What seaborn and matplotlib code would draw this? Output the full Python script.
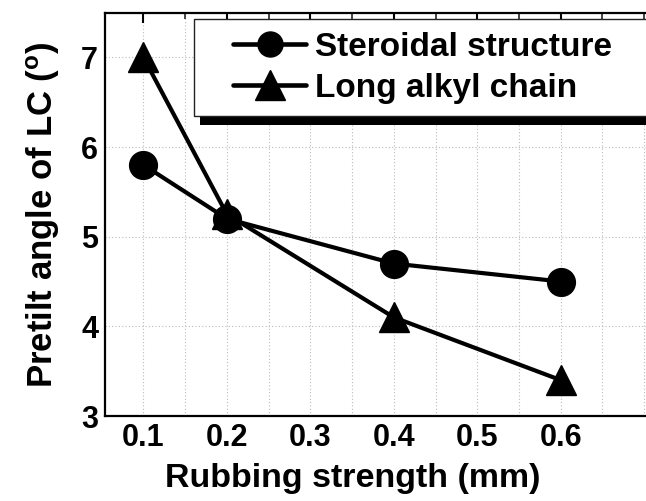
import matplotlib
matplotlib.use("Agg")
import matplotlib.pyplot as plt
from matplotlib.lines import Line2D
from matplotlib.patches import Rectangle
from matplotlib.transforms import IdentityTransform
from matplotlib.ticker import MultipleLocator
import seaborn as sns
import pandas as pd

# Rubbing strength (mm) and pretilt angle (deg) for the two alignment layers
rubbing = [0.1, 0.2, 0.4, 0.6]
steroidal = [5.8, 5.2, 4.7, 4.5]
long_alkyl = [7.0, 5.25, 4.1, 3.4]
series_names = ["Steroidal structure", "Long alkyl chain"]
x_ticks = [0.1, 0.2, 0.3, 0.4, 0.5, 0.6]
y_ticks = [3, 4, 5, 6, 7]

sns.set_theme(style="white")
plt.rcParams["font.family"] = ["Liberation Sans", "DejaVu Sans"]
plt.rcParams["font.weight"] = "bold"
plt.rcParams["mathtext.default"] = "regular"
plt.rcParams["text.color"] = "black"
plt.rcParams["axes.labelcolor"] = "black"

W, H, DPI = 646, 501, 100
fig = plt.figure(figsize=(W / DPI, H / DPI), dpi=DPI)
fig.patch.set_facecolor("white")

# x range chosen so that the right-hand frame runs off the canvas
xmin, xmax = 0.054, 0.72
left_px, bottom_px, top_px = 105, 416, 12.5
px_per_unit = 834.7
width_px = (xmax - xmin) * px_per_unit
ax = fig.add_axes([left_px / W, (H - bottom_px) / H,
                   width_px / W, (bottom_px - top_px) / H])
ax.set_facecolor("white")

df_long = pd.DataFrame({"x": rubbing, "y": long_alkyl})
df_ster = pd.DataFrame({"x": rubbing, "y": steroidal})

common = dict(color="black", linewidth=3.0, markeredgecolor="black",
              markeredgewidth=1, legend=False, ax=ax, clip_on=False)
sns.lineplot(data=df_long, x="x", y="y", marker="^", markersize=22, zorder=3, **common)
sns.lineplot(data=df_ster, x="x", y="y", marker="o", markersize=20, zorder=4, **common)

ax.set_xlim(xmin, xmax)
ax.set_ylim(3, 7.5)
ax.set_xticks(x_ticks)
ax.set_xticklabels([f"{v:.1f}" for v in x_ticks])
ax.xaxis.set_minor_locator(MultipleLocator(0.05))
ax.set_yticks(y_ticks)
ax.set_yticklabels([str(v) for v in y_ticks])

ax.grid(True, which="both", axis="x", color="#bbbbbb", linestyle=(0, (1, 2)), linewidth=0.8)
ax.grid(True, which="major", axis="y", color="#bbbbbb", linestyle=(0, (1, 2)), linewidth=0.8)
ax.set_axisbelow(True)

for s in ax.spines.values():
    s.set_color("black")
    s.set_linewidth(1.6)

ax.tick_params(axis="both", which="major", direction="in", length=7, width=1.5,
               top=True, right=True, labelsize=22, pad=5, colors="black")
ax.tick_params(axis="x", which="minor", direction="in", length=4, width=1.2, top=True)
for lab in ax.get_xticklabels() + ax.get_yticklabels():
    lab.set_fontweight("bold")

ax.set_xlabel("Rubbing strength (mm)", fontsize=24.5, fontweight="bold", labelpad=7, color="black")
ax.xaxis.label.set_x(0.446)
ax.set_ylabel("Pretilt angle of LC ($^{\\mathregular{o}}$)", fontsize=25, fontweight="bold",
              labelpad=14, color="black")

# legend box with a solid drop shadow, drawn in pixel coordinates
box_left, box_top, box_bottom, box_right = 194, 19, 116, 720
shadow = Rectangle((box_left + 6, H - box_bottom - 9), box_right - box_left, box_bottom - box_top,
                   transform=IdentityTransform(), facecolor="black", edgecolor="none",
                   zorder=5.4, clip_on=False)
frame = Rectangle((box_left, H - box_bottom), box_right - box_left, box_bottom - box_top,
                  transform=IdentityTransform(), facecolor="white", edgecolor="#222222",
                  linewidth=1.0, zorder=5.5, clip_on=False)
ax.add_artist(shadow)
ax.add_artist(frame)

handles = [
    Line2D([], [], color="black", linewidth=3.3, marker="o", markersize=18, markeredgecolor="black"),
    Line2D([], [], color="black", linewidth=3.3, marker="^", markersize=21, markeredgecolor="black"),
]
leg = ax.legend(handles, series_names, loc="upper left",
                bbox_to_anchor=(233 / W, 1 - 32 / H),
                bbox_transform=fig.transFigure, frameon=False,
                borderaxespad=0, borderpad=0,
                prop={"size": 24, "weight": "bold"}, handlelength=2.2,
                handletextpad=0.25, labelspacing=0.3, labelcolor="black")
leg.set_zorder(6)

fig.savefig("out.png", dpi=DPI, facecolor="white")
